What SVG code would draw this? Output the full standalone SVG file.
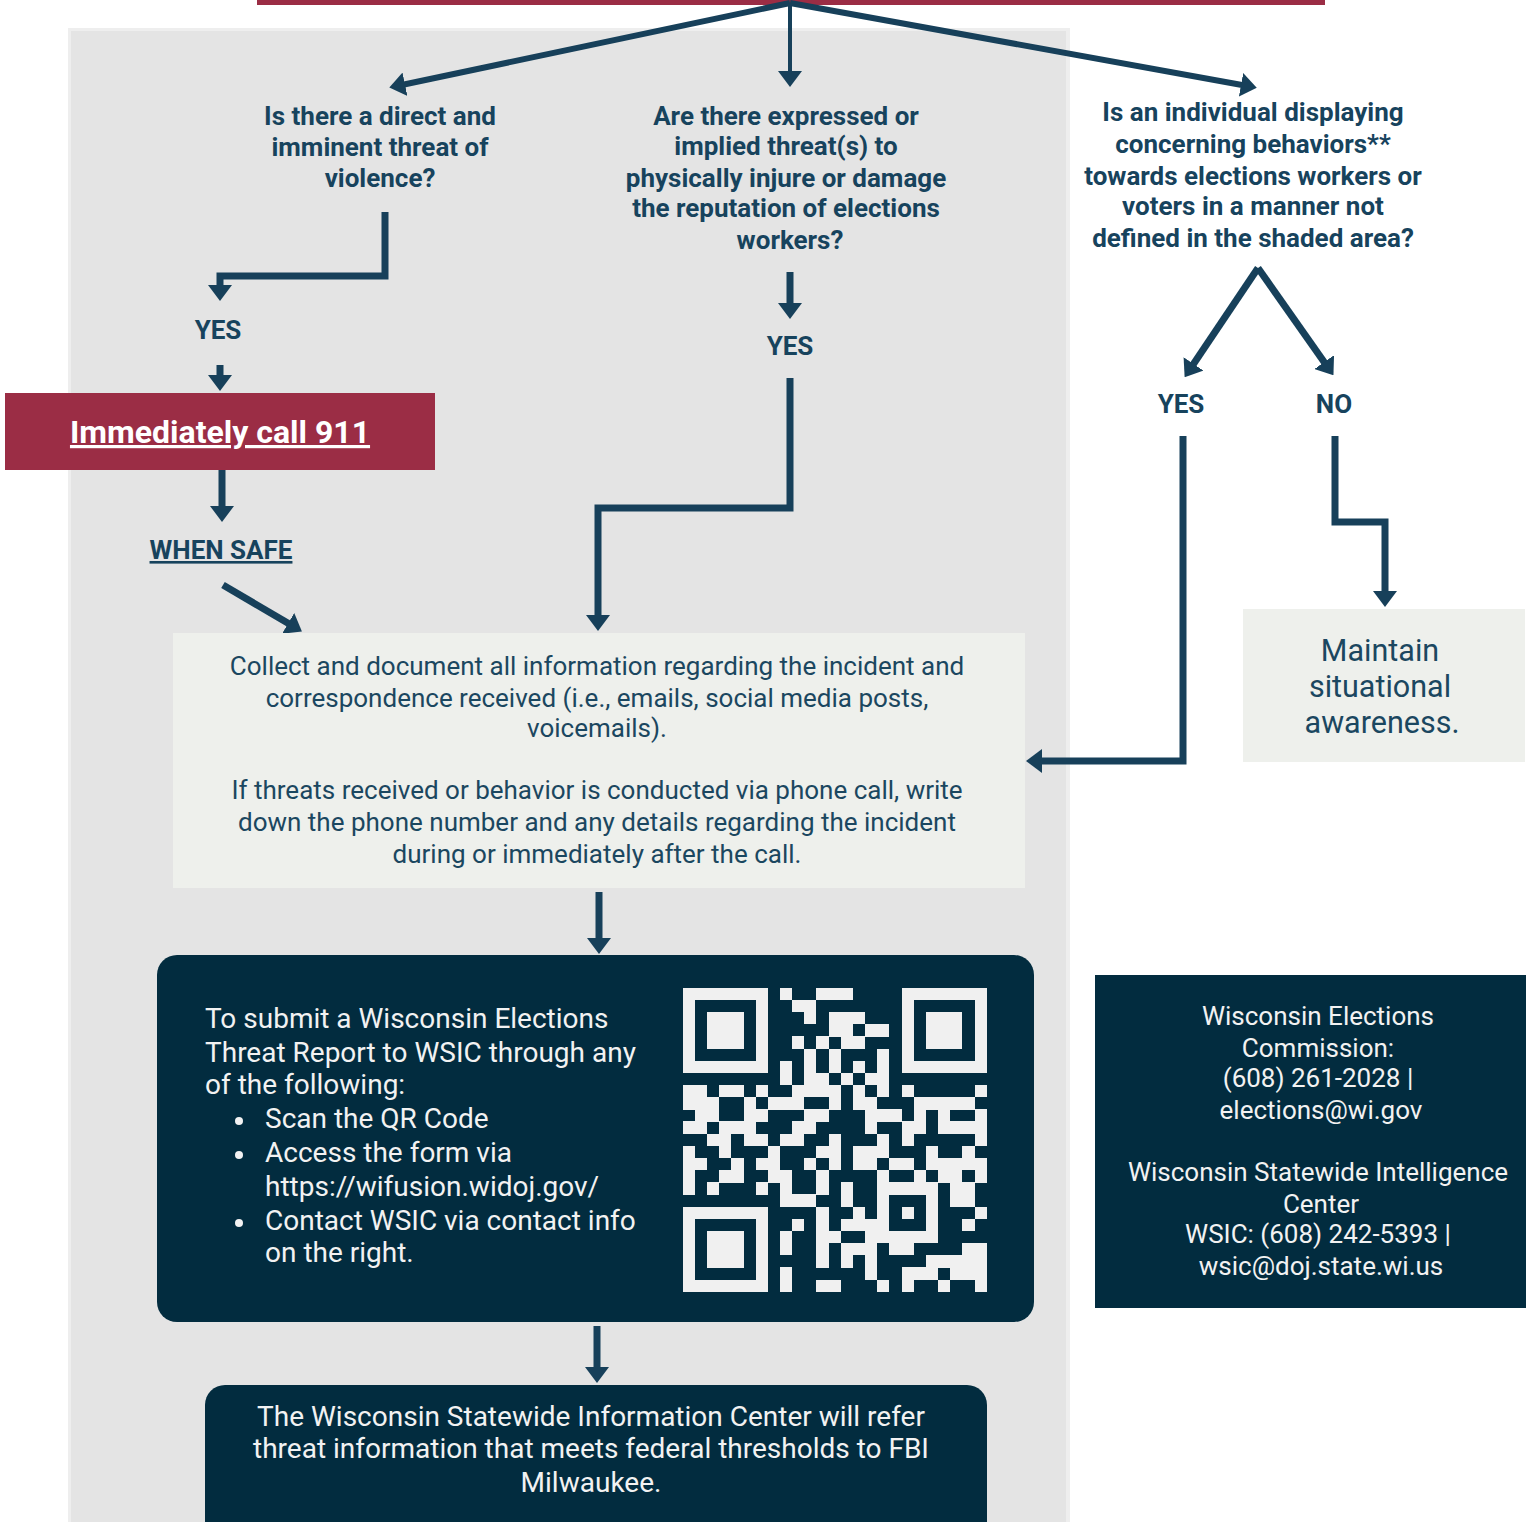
<svg xmlns="http://www.w3.org/2000/svg" width="1526" height="1522" viewBox="0 0 1526 1522">
<style>
text{font-family:Roboto,"Liberation Sans",sans-serif}
.q{font-size:26px;font-weight:700;fill:#17435d;text-anchor:middle}
.lab{font-size:26px;font-weight:700;fill:#17435d;text-anchor:middle}
.info{font-size:26px;fill:#1b4760;text-anchor:middle}
.wt{font-size:28px;fill:#f2f2f2}
.wc{font-size:26px;fill:#f2f2f2;text-anchor:middle}
.con{fill:none;stroke:#17405a;stroke-width:7;stroke-linejoin:miter}
</style>
<defs>
<marker id="ah" viewBox="0 0 16 24" refX="1" refY="12" markerWidth="16" markerHeight="24" markerUnits="userSpaceOnUse" orient="auto">
<path d="M0,0 L16,12 L0,24 z" fill="#17405a"/>
</marker>
</defs>
<rect width="1526" height="1522" fill="#ffffff"/>
<g id="panel">
<rect x="68" y="28" width="1002" height="1500" fill="#eeeeee"/>
<rect x="71" y="31" width="995" height="1500" fill="#e4e4e4"/>
</g>
<g id="topbar"><rect x="257" y="0" width="1068" height="5" fill="#9b2d45"/></g>
<g id="connectors">
<path class="con" style="stroke-width:6" d="M790,3 L404,84.5" marker-end="url(#ah)"/>
<path class="con" style="stroke-width:4" d="M790,3 V72" marker-end="url(#ah)"/>
<path class="con" style="stroke-width:6" d="M790,3 L1242,85" marker-end="url(#ah)"/>
<path class="con" d="M385,212 V276 H220 V286" marker-end="url(#ah)"/>
<path class="con" d="M220,365 V376" marker-end="url(#ah)"/>
<path class="con" d="M222,470 V507" marker-end="url(#ah)"/>
<path class="con" d="M223,585 L289,623.8" marker-end="url(#ah)"/>
<path class="con" d="M790,272 V304" marker-end="url(#ah)"/>
<path class="con" d="M790,378 V508 H598 V616" marker-end="url(#ah)"/>
<path class="con" d="M1258,268 L1193,364.7" marker-end="url(#ah)"/>
<path class="con" d="M1258,268 L1324.8,362.9" marker-end="url(#ah)"/>
<path class="con" d="M1183,436 V761 H1041" marker-end="url(#ah)"/>
<path class="con" d="M1335,436 V522 H1385 V592" marker-end="url(#ah)"/>
<path class="con" d="M599,892 V939" marker-end="url(#ah)"/>
<path class="con" d="M597,1326 V1368" marker-end="url(#ah)"/>
</g>
<g id="q1">
<text class="q" x="380" y="125">Is there a direct and</text>
<text class="q" x="380" y="156">imminent threat of</text>
<text class="q" x="380" y="187">violence?</text>
</g>
<g id="q2">
<text class="q" x="786" y="125">Are there expressed or</text>
<text class="q" x="786" y="155">implied threat(s) to</text>
<text class="q" x="786" y="187">physically injure or damage</text>
<text class="q" x="786" y="217">the reputation of elections</text>
<text class="q" x="790" y="249">workers?</text>
</g>
<g id="q3">
<text class="q" x="1253" y="121">Is an individual displaying</text>
<text class="q" x="1253" y="153">concerning behaviors**</text>
<text class="q" x="1253" y="185">towards elections workers or</text>
<text class="q" x="1253" y="215">voters in a manner not</text>
<text class="q" x="1253" y="247">defined in the shaded area?</text>
</g>
<g id="yes1"><text class="lab" x="218" y="339">YES</text></g>
<g id="yes2"><text class="lab" x="790" y="355">YES</text></g>
<g id="yes3"><text class="lab" x="1181" y="413">YES</text></g>
<g id="no3"><text class="lab" x="1334" y="413">NO</text></g>
<g id="call911">
<rect x="5" y="393" width="430" height="77" fill="#9b2d45"/>
<text x="220" y="443" text-anchor="middle" font-size="32" font-weight="700" fill="#ffffff" text-decoration="underline">Immediately call 911</text>
</g>
<g id="whensafe"><text class="lab" x="221" y="559" text-decoration="underline">WHEN SAFE</text></g>
<g id="collect">
<rect x="173" y="633" width="852" height="255" fill="#eef0ec"/>
<text class="info" x="597" y="675">Collect and document all information regarding the incident and</text>
<text class="info" x="597" y="707">correspondence received (i.e., emails, social media posts,</text>
<text class="info" x="597" y="737">voicemails).</text>
<text class="info" x="597" y="799">If threats received or behavior is conducted via phone call, write</text>
<text class="info" x="597" y="831">down the phone number and any details regarding the incident</text>
<text class="info" x="597" y="863">during or immediately after the call.</text>
</g>
<g id="maintain">
<rect x="1243" y="609" width="282" height="153" fill="#eef0ec"/>
<text x="1380" y="661" text-anchor="middle" font-size="30.5" fill="#1b4760">Maintain</text>
<text x="1380" y="697" text-anchor="middle" font-size="30.5" fill="#1b4760">situational</text>
<text x="1382" y="733" text-anchor="middle" font-size="30.5" fill="#1b4760">awareness.</text>
</g>
<g id="submit">
<rect x="157" y="955" width="877" height="367" rx="20" fill="#022c3f"/>
<text class="wt" x="205" y="1028">To submit a Wisconsin Elections</text>
<text class="wt" x="205" y="1062">Threat Report to WSIC through any</text>
<text class="wt" x="205" y="1094">of the following:</text>
<circle cx="239" cy="1121" r="4" fill="#f2f2f2"/>
<text class="wt" x="265" y="1128">Scan the QR Code</text>
<circle cx="239" cy="1155" r="4" fill="#f2f2f2"/>
<text class="wt" x="265" y="1162">Access the form via</text>
<text class="wt" x="265" y="1196">https://wifusion.widoj.gov/</text>
<circle cx="239" cy="1223" r="4" fill="#f2f2f2"/>
<text class="wt" x="265" y="1230">Contact WSIC via contact info</text>
<text class="wt" x="265" y="1262">on the right.</text>
<g id="qr" transform="translate(682.7,987.7) scale(12.16)" fill="#f0f0f0" shape-rendering="crispEdges">
<rect x="0" y="0" width="7" height="1.02"/><rect x="8" y="0" width="1" height="1.02"/><rect x="11" y="0" width="3" height="1.02"/><rect x="18" y="0" width="7" height="1.02"/>
<rect x="0" y="1" width="1" height="1.02"/><rect x="6" y="1" width="1" height="1.02"/><rect x="9" y="1" width="2" height="1.02"/><rect x="18" y="1" width="1" height="1.02"/><rect x="24" y="1" width="1" height="1.02"/>
<rect x="0" y="2" width="1" height="1.02"/><rect x="2" y="2" width="3" height="1.02"/><rect x="6" y="2" width="1" height="1.02"/><rect x="10" y="2" width="1" height="1.02"/><rect x="12" y="2" width="3" height="1.02"/><rect x="18" y="2" width="1" height="1.02"/><rect x="20" y="2" width="3" height="1.02"/><rect x="24" y="2" width="1" height="1.02"/>
<rect x="0" y="3" width="1" height="1.02"/><rect x="2" y="3" width="3" height="1.02"/><rect x="6" y="3" width="1" height="1.02"/><rect x="12" y="3" width="2" height="1.02"/><rect x="15" y="3" width="2" height="1.02"/><rect x="18" y="3" width="1" height="1.02"/><rect x="20" y="3" width="3" height="1.02"/><rect x="24" y="3" width="1" height="1.02"/>
<rect x="0" y="4" width="1" height="1.02"/><rect x="2" y="4" width="3" height="1.02"/><rect x="6" y="4" width="1" height="1.02"/><rect x="9" y="4" width="1" height="1.02"/><rect x="11" y="4" width="1" height="1.02"/><rect x="13" y="4" width="2" height="1.02"/><rect x="18" y="4" width="1" height="1.02"/><rect x="20" y="4" width="3" height="1.02"/><rect x="24" y="4" width="1" height="1.02"/>
<rect x="0" y="5" width="1" height="1.02"/><rect x="6" y="5" width="1" height="1.02"/><rect x="10" y="5" width="1" height="1.02"/><rect x="12" y="5" width="1" height="1.02"/><rect x="16" y="5" width="1" height="1.02"/><rect x="18" y="5" width="1" height="1.02"/><rect x="24" y="5" width="1" height="1.02"/>
<rect x="0" y="6" width="7" height="1.02"/><rect x="8" y="6" width="1" height="1.02"/><rect x="10" y="6" width="1" height="1.02"/><rect x="12" y="6" width="1" height="1.02"/><rect x="14" y="6" width="1" height="1.02"/><rect x="16" y="6" width="1" height="1.02"/><rect x="18" y="6" width="7" height="1.02"/>
<rect x="8" y="7" width="1" height="1.02"/><rect x="10" y="7" width="2" height="1.02"/><rect x="13" y="7" width="1" height="1.02"/><rect x="15" y="7" width="2" height="1.02"/>
<rect x="0" y="8" width="2" height="1.02"/><rect x="3" y="8" width="2" height="1.02"/><rect x="6" y="8" width="1" height="1.02"/><rect x="9" y="8" width="4" height="1.02"/><rect x="14" y="8" width="1" height="1.02"/><rect x="16" y="8" width="1" height="1.02"/><rect x="18" y="8" width="1" height="1.02"/><rect x="24" y="8" width="1" height="1.02"/>
<rect x="0" y="9" width="3" height="1.02"/><rect x="5" y="9" width="1" height="1.02"/><rect x="7" y="9" width="3" height="1.02"/><rect x="12" y="9" width="1" height="1.02"/><rect x="14" y="9" width="2" height="1.02"/><rect x="19" y="9" width="5" height="1.02"/>
<rect x="1" y="10" width="2" height="1.02"/><rect x="5" y="10" width="2" height="1.02"/><rect x="10" y="10" width="2" height="1.02"/><rect x="15" y="10" width="3" height="1.02"/><rect x="19" y="10" width="1" height="1.02"/><rect x="21" y="10" width="1" height="1.02"/><rect x="24" y="10" width="1" height="1.02"/>
<rect x="0" y="11" width="2" height="1.02"/><rect x="3" y="11" width="3" height="1.02"/><rect x="9" y="11" width="2" height="1.02"/><rect x="15" y="11" width="1" height="1.02"/><rect x="18" y="11" width="2" height="1.02"/><rect x="21" y="11" width="4" height="1.02"/>
<rect x="2" y="12" width="2" height="1.02"/><rect x="5" y="12" width="2" height="1.02"/><rect x="8" y="12" width="2" height="1.02"/><rect x="12" y="12" width="1" height="1.02"/><rect x="16" y="12" width="1" height="1.02"/><rect x="18" y="12" width="1" height="1.02"/><rect x="24" y="12" width="1" height="1.02"/>
<rect x="0" y="13" width="1" height="1.02"/><rect x="3" y="13" width="1" height="1.02"/><rect x="7" y="13" width="1" height="1.02"/><rect x="11" y="13" width="2" height="1.02"/><rect x="14" y="13" width="3" height="1.02"/><rect x="20" y="13" width="1" height="1.02"/><rect x="23" y="13" width="1" height="1.02"/>
<rect x="0" y="14" width="2" height="1.02"/><rect x="4" y="14" width="1" height="1.02"/><rect x="6" y="14" width="2" height="1.02"/><rect x="10" y="14" width="1" height="1.02"/><rect x="12" y="14" width="1" height="1.02"/><rect x="14" y="14" width="2" height="1.02"/><rect x="17" y="14" width="2" height="1.02"/><rect x="20" y="14" width="5" height="1.02"/>
<rect x="0" y="15" width="1" height="1.02"/><rect x="3" y="15" width="2" height="1.02"/><rect x="7" y="15" width="2" height="1.02"/><rect x="11" y="15" width="1" height="1.02"/><rect x="16" y="15" width="1" height="1.02"/><rect x="19" y="15" width="1" height="1.02"/><rect x="21" y="15" width="2" height="1.02"/><rect x="24" y="15" width="1" height="1.02"/>
<rect x="0" y="16" width="1" height="1.02"/><rect x="2" y="16" width="1" height="1.02"/><rect x="6" y="16" width="1" height="1.02"/><rect x="8" y="16" width="1" height="1.02"/><rect x="11" y="16" width="1" height="1.02"/><rect x="13" y="16" width="1" height="1.02"/><rect x="16" y="16" width="5" height="1.02"/><rect x="22" y="16" width="2" height="1.02"/>
<rect x="8" y="17" width="3" height="1.02"/><rect x="13" y="17" width="1" height="1.02"/><rect x="16" y="17" width="1" height="1.02"/><rect x="20" y="17" width="1" height="1.02"/><rect x="22" y="17" width="2" height="1.02"/>
<rect x="0" y="18" width="7" height="1.02"/><rect x="11" y="18" width="1" height="1.02"/><rect x="14" y="18" width="1" height="1.02"/><rect x="16" y="18" width="1" height="1.02"/><rect x="18" y="18" width="1" height="1.02"/><rect x="20" y="18" width="1" height="1.02"/><rect x="24" y="18" width="1" height="1.02"/>
<rect x="0" y="19" width="1" height="1.02"/><rect x="6" y="19" width="1" height="1.02"/><rect x="9" y="19" width="1" height="1.02"/><rect x="11" y="19" width="1" height="1.02"/><rect x="13" y="19" width="4" height="1.02"/><rect x="20" y="19" width="1" height="1.02"/><rect x="23" y="19" width="1" height="1.02"/>
<rect x="0" y="20" width="1" height="1.02"/><rect x="2" y="20" width="3" height="1.02"/><rect x="6" y="20" width="1" height="1.02"/><rect x="8" y="20" width="1" height="1.02"/><rect x="11" y="20" width="2" height="1.02"/><rect x="15" y="20" width="6" height="1.02"/>
<rect x="0" y="21" width="1" height="1.02"/><rect x="2" y="21" width="3" height="1.02"/><rect x="6" y="21" width="1" height="1.02"/><rect x="8" y="21" width="1" height="1.02"/><rect x="11" y="21" width="1" height="1.02"/><rect x="13" y="21" width="3" height="1.02"/><rect x="17" y="21" width="2" height="1.02"/><rect x="23" y="21" width="2" height="1.02"/>
<rect x="0" y="22" width="1" height="1.02"/><rect x="2" y="22" width="3" height="1.02"/><rect x="6" y="22" width="1" height="1.02"/><rect x="11" y="22" width="1" height="1.02"/><rect x="13" y="22" width="1" height="1.02"/><rect x="15" y="22" width="1" height="1.02"/><rect x="20" y="22" width="5" height="1.02"/>
<rect x="0" y="23" width="1" height="1.02"/><rect x="6" y="23" width="1" height="1.02"/><rect x="8" y="23" width="1" height="1.02"/><rect x="15" y="23" width="1" height="1.02"/><rect x="18" y="23" width="3" height="1.02"/><rect x="22" y="23" width="3" height="1.02"/>
<rect x="0" y="24" width="7" height="1"/><rect x="8" y="24" width="1" height="1"/><rect x="11" y="24" width="2" height="1"/><rect x="16" y="24" width="1" height="1"/><rect x="18" y="24" width="1" height="1"/><rect x="21" y="24" width="1" height="1"/><rect x="24" y="24" width="1" height="1"/>
</g>
</g>
<g id="contacts">
<rect x="1095" y="975" width="431" height="333" fill="#022c3f"/>
<text class="wc" x="1318" y="1025">Wisconsin Elections</text>
<text class="wc" x="1318" y="1057">Commission:</text>
<text class="wc" x="1318" y="1087">(608) 261-2028 |</text>
<text class="wc" x="1321" y="1119">elections@wi.gov</text>
<text class="wc" x="1318" y="1181">Wisconsin Statewide Intelligence</text>
<text class="wc" x="1321" y="1213">Center</text>
<text class="wc" x="1318" y="1243">WSIC: (608) 242-5393 |</text>
<text class="wc" x="1321" y="1275">wsic@doj.state.wi.us</text>
</g>
<g id="refer">
<rect x="205" y="1385" width="782" height="160" rx="20" fill="#022c3f"/>
<text class="wt" x="591" y="1426" text-anchor="middle">The Wisconsin Statewide Information Center will refer</text>
<text class="wt" x="591" y="1458" text-anchor="middle">threat information that meets federal thresholds to FBI</text>
<text class="wt" x="591" y="1492" text-anchor="middle">Milwaukee.</text>
</g>
</svg>
